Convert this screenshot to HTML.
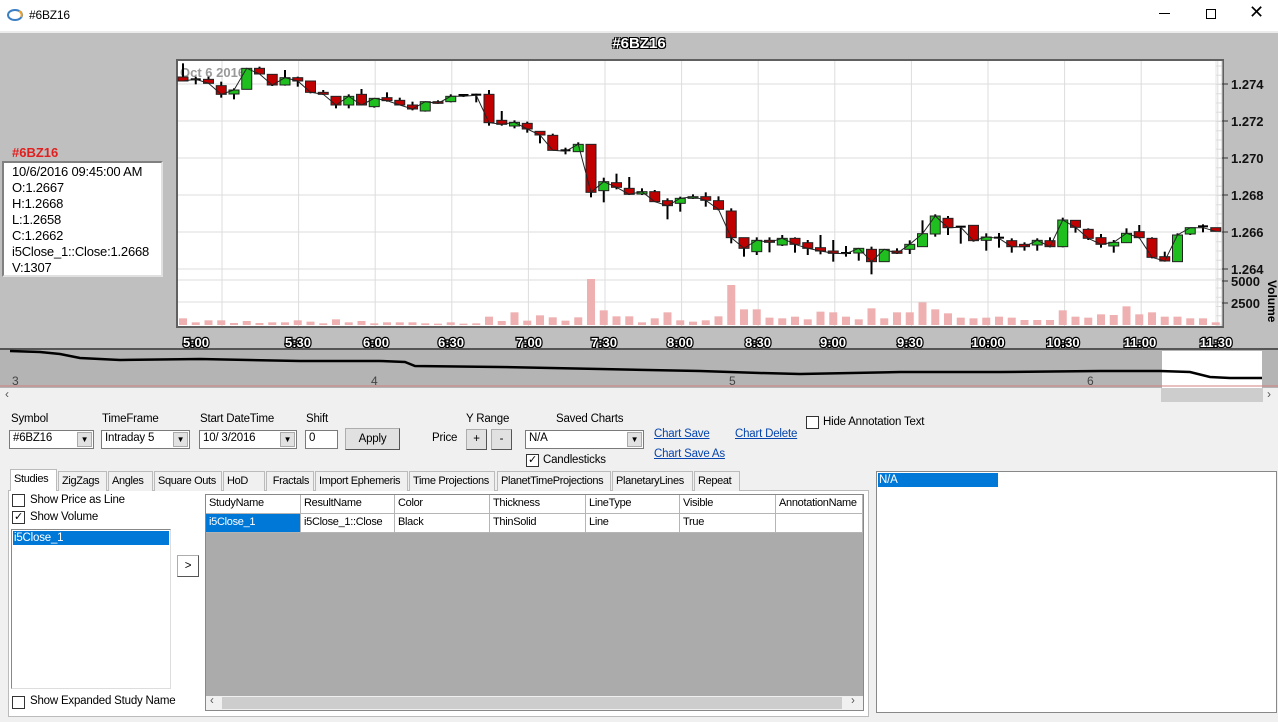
<!DOCTYPE html>
<html><head><meta charset="utf-8">
<style>
*{box-sizing:border-box}
body{margin:0;width:1278px;height:722px;overflow:hidden;background:#f0f0f0;font-family:"Liberation Sans",Arial,sans-serif;font-size:11.5px;letter-spacing:-0.2px;color:#000;position:relative}
.a{position:absolute;white-space:nowrap}
.cb{position:absolute;width:13px;height:13px;border:1px solid #333;background:#fff;font-size:11px;line-height:11px;text-align:center}
.combo{position:absolute;height:19px;background:#fff;border:1px solid #7a7a7a;padding:1px 3px;}
.combo .ar{position:absolute;right:1px;top:1px;width:15px;height:15px;background:#e1e1e1;border:1px solid #aaa;font-size:8px;text-align:center;line-height:14px}
.btn{position:absolute;background:#e1e1e1;border:1px solid #adadad;border-right-color:#555;border-bottom-color:#555;text-align:center}
.lnk{position:absolute;color:#0645ad;text-decoration:underline;white-space:nowrap}
.tab{position:absolute;top:471px;height:20px;border:1px solid #bbb;border-bottom:none;background:#f0f0f0;padding:3px 0 0 3px;font-size:11px;letter-spacing:-0.35px;white-space:nowrap;overflow:hidden}
.th,.td{position:absolute;height:19px;border-right:1px solid #b5b5b5;border-bottom:1px solid #b5b5b5;padding:2px 3px;background:#fff;white-space:nowrap;overflow:hidden;font-size:11px;letter-spacing:-0.3px}
</style></head><body>
<div class="a" style="left:0;top:0;width:1278px;height:31px;background:#fff"></div>
<svg class="a" style="left:6px;top:7px" width="18" height="16"><ellipse cx="9" cy="8" rx="7" ry="5" fill="none" stroke="#3a7fc4" stroke-width="2"/><path d="M13 4 A7 5 0 0 1 15 10" stroke="#f0a020" stroke-width="2" fill="none"/></svg>
<div class="a" style="left:29px;top:8px;font-size:12px">#6BZ16</div>
<div class="a" style="left:1159px;top:13px;width:11px;height:1px;background:#000"></div>
<div class="a" style="left:1206px;top:9px;width:10px;height:10px;border:1px solid #000"></div>
<div class="a" style="left:1249px;top:2px;font-size:18px;font-weight:300">✕</div>
<div class="a" style="left:0;top:31px;width:1278px;height:318px;background:#bfbfbf"></div>
<div class="a" style="left:0;top:31px;width:1278px;height:2px;background:#ececec"></div>
<div class="a" style="left:600px;top:35px;width:78px;text-align:center;font-weight:bold;font-size:15px;color:#fff;letter-spacing:0;text-shadow:1px 1px 0 #000,-1px -1px 0 #000,1px -1px 0 #000,-1px 1px 0 #000">#6BZ16</div>
<div class="a" style="left:12px;top:145px;color:#e02020;font-weight:bold;font-size:13px;letter-spacing:0">#6BZ16</div>
<div class="a" style="left:2px;top:161px;width:161px;height:116px;background:#fff;border:2px solid #808080;border-right-color:#e0e0e0;border-bottom-color:#e0e0e0;padding:1px 0 0 8px;font-size:13px;line-height:16px;letter-spacing:-0.2px">10/6/2016 09:45:00 AM<br>O:1.2667<br>H:1.2668<br>L:1.2658<br>C:1.2662<br>i5Close_1::Close:1.2668<br>V:1307</div>
<svg id="ch" class="a" style="left:0;top:0;letter-spacing:0" width="1278" height="402"></svg>
<div class="a" style="left:0;top:388px;width:1278px;height:14px;background:#f0f0f0"></div>
<div class="a" style="left:1161px;top:388px;width:102px;height:14px;background:#cdcdcd"></div>
<div class="a" style="left:5px;top:387px;font-size:12px;color:#555">‹</div>
<div class="a" style="left:1267px;top:387px;font-size:12px;color:#555">›</div>
<div class="a" style="left:11px;top:413px">Symbol</div>
<div class="a" style="left:102px;top:413px">TimeFrame</div>
<div class="a" style="left:200px;top:413px">Start DateTime</div>
<div class="a" style="left:306px;top:413px">Shift</div>
<div class="a" style="left:466px;top:413px">Y Range</div>
<div class="a" style="left:556px;top:413px">Saved Charts</div>
<div class="combo" style="left:9px;top:430px;width:85px">#6BZ16<div class="ar">▼</div></div>
<div class="combo" style="left:101px;top:430px;width:89px">Intraday 5<div class="ar">▼</div></div>
<div class="combo" style="left:199px;top:430px;width:98px">10/ 3/2016<div class="ar">▼</div></div>
<div class="combo" style="left:305px;top:430px;width:33px">0</div>
<div class="btn" style="left:345px;top:428px;width:55px;height:22px;line-height:20px">Apply</div>
<div class="a" style="left:432px;top:432px">Price</div>
<div class="btn" style="left:466px;top:429px;width:21px;height:21px;line-height:19px">+</div>
<div class="btn" style="left:491px;top:429px;width:21px;height:21px;line-height:19px">-</div>
<div class="combo" style="left:525px;top:430px;width:119px">N/A<div class="ar">▼</div></div>
<div class="lnk" style="left:654px;top:428px">Chart Save</div>
<div class="lnk" style="left:735px;top:428px">Chart Delete</div>
<div class="lnk" style="left:654px;top:448px">Chart Save As</div>
<div class="cb" style="left:526px;top:454px">✓</div><div class="a" style="left:543px;top:454px">Candlesticks</div>
<div class="cb" style="left:806px;top:416px"></div><div class="a" style="left:823px;top:416px">Hide Annotation Text</div>
<div class="a" style="left:8px;top:490px;width:861px;height:227px;background:#fff;border:1px solid #bbb"></div>
<div class="tab" style="left:10px;width:47px;background:#fff;top:469px;height:22px">Studies</div>
<div class="tab" style="left:58px;width:49px">ZigZags</div>
<div class="tab" style="left:108px;width:45px">Angles</div>
<div class="tab" style="left:154px;width:68px">Square Outs</div>
<div class="tab" style="left:223px;width:42px">HoD</div>
<div class="tab" style="left:266px;width:48px">&nbsp;Fractals</div>
<div class="tab" style="left:315px;width:93px">Import Ephemeris</div>
<div class="tab" style="left:409px;width:86px">Time Projections</div>
<div class="tab" style="left:497px;width:114px">PlanetTimeProjections</div>
<div class="tab" style="left:612px;width:81px">PlanetaryLines</div>
<div class="tab" style="left:694px;width:46px">Repeat</div>
<div class="cb" style="left:12px;top:494px"></div><div class="a" style="left:30px;top:494px">Show Price as Line</div>
<div class="cb" style="left:12px;top:511px">✓</div><div class="a" style="left:30px;top:511px">Show Volume</div>
<div class="a" style="left:11px;top:529px;width:160px;height:160px;border:1px solid #888;border-right-color:#ddd;border-bottom-color:#ddd;background:#fff"></div>
<div class="a" style="left:13px;top:531px;width:156px;height:14px;background:#0078d7;color:#fff;padding-left:1px;line-height:14px">i5Close_1</div>
<div class="btn" style="left:177px;top:555px;width:22px;height:22px;background:#fff;line-height:20px">&gt;</div>
<div class="cb" style="left:12px;top:696px"></div><div class="a" style="left:30px;top:695px">Show Expanded Study Name</div>
<div class="a" style="left:205px;top:494px;width:659px;height:217px;background:#ababab;border:1px solid #888"></div>
<div class="th" style="left:206px;top:495px;width:95px">StudyName</div>
<div class="th" style="left:301px;top:495px;width:94px">ResultName</div>
<div class="th" style="left:395px;top:495px;width:95px">Color</div>
<div class="th" style="left:490px;top:495px;width:96px">Thickness</div>
<div class="th" style="left:586px;top:495px;width:94px">LineType</div>
<div class="th" style="left:680px;top:495px;width:96px">Visible</div>
<div class="th" style="left:776px;top:495px;width:87px">AnnotationName</div>
<div class="td" style="left:206px;top:514px;width:95px;background:#0078d7;color:#fff">i5Close_1</div>
<div class="td" style="left:301px;top:514px;width:94px">i5Close_1::Close</div>
<div class="td" style="left:395px;top:514px;width:95px">Black</div>
<div class="td" style="left:490px;top:514px;width:96px">ThinSolid</div>
<div class="td" style="left:586px;top:514px;width:94px">Line</div>
<div class="td" style="left:680px;top:514px;width:96px">True</div>
<div class="td" style="left:776px;top:514px;width:87px"></div>
<div class="a" style="left:206px;top:696px;width:657px;height:14px;background:#f0f0f0"></div>
<div class="a" style="left:222px;top:697px;width:620px;height:12px;background:#cdcdcd"></div>
<div class="a" style="left:210px;top:695px;color:#555">‹</div><div class="a" style="left:851px;top:695px;color:#555">›</div>
<div class="a" style="left:876px;top:471px;width:401px;height:242px;background:#fff;border:1px solid #888"></div>
<div class="a" style="left:878px;top:473px;width:120px;height:14px;background:#0078d7;color:#fff;line-height:14px;padding-left:1px">N/A</div>
<script>
var s=document.getElementById('ch'),h='';
function R(x,y,w,ht,f,st){h+='<rect x="'+x+'" y="'+y+'" width="'+w+'" height="'+ht+'" fill="'+f+'"'+(st?' stroke="'+st+'"':'')+'/>';}
function L(x1,y1,x2,y2,c,w){h+='<line x1="'+x1+'" y1="'+y1+'" x2="'+x2+'" y2="'+y2+'" stroke="'+c+'" stroke-width="'+(w||1)+'"/>';}
function T(x,y,t,a){h+='<text x="'+x+'" y="'+y+'" '+(a||'')+'>'+t+'</text>';}
R(176,59,1048,269,'#606060');R(178,61,1044,265,'#fff');
var gy=[84,121,158,195,232,269,280,302];
for(var i=0;i<gy.length;i++)L(178,gy[i],1222,gy[i],'#ddd');
for(var g=0;g<14;g++){var gx=222+g*76.6;L(gx,61,gx,326,'#ddd');}
L(1216,61,1216,326,'#e4e4e4');
for(var y=66;y<326;y+=9.25)L(1216,y,1222,y,'#ddd');
L(1222,61,1222,326,'#c8c8c8');
var pl=[[84,'1.274'],[121,'1.272'],[158,'1.270'],[195,'1.268'],[232,'1.266'],[269,'1.264'],[281,'5000'],[303,'2500']];
for(i=0;i<pl.length;i++){L(1222,pl[i][0],1228,pl[i][0],'#333');T(1231,pl[i][0]+5,pl[i][1],'font-size="13" font-weight="bold" fill="#111"');}
T(1268,280,'Volume','font-size="12" font-weight="bold" transform="rotate(90 1268 280)"');
T(180,77,'Oct 6 2016','font-size="13" font-weight="bold" fill="#999"');
var d=[[66,78,25,78,0],[73,77,65,88,1],[73,85,65,85,0],[92,118,80,128,0],[105,117,100,133,1],[40,103,40,103,1],[40,57,35,57,0],[58,90,58,93,0],[68,90,45,92,1],[68,78,65,95,0],[78,112,78,115,0],[112,118,105,120,0],[124,150,124,160,0],[124,150,118,160,1],[118,150,102,150,0],[130,155,130,158,1],[128,137,112,140,0],[136,150,128,150,0],[150,162,140,166,0],[140,168,140,170,1],[140,145,136,146,0],[124,140,118,142,1],[120,124,118,126,2],[119,121,116,142,2],[118,203,105,212,0],[196,208,168,212,0],[202,213,196,220,1],[205,222,200,233,0],[229,240,229,265,0],[241,286,236,286,0],[286,289,278,298,2],[268,290,262,290,1],[268,412,268,427,0],[380,407,368,442,1],[383,397,356,403,0],[400,418,366,420,0],[410,417,400,420,1],[410,440,405,440,0],[437,452,430,493,0],[430,445,425,470,1],[425,430,418,432,1],[425,436,412,455,0],[437,463,424,466,0],
[468,548,460,565,0],[548,580,548,605,0],[556,590,547,600,1],[556,562,547,592,0],[550,570,540,573,1],[550,568,547,593,0],[563,580,555,600,0],[578,588,540,598,0],[588,595,555,620,0],[594,596,573,605,2],[580,594,580,617,1],[583,620,575,658,0],[583,620,583,620,1],[588,595,580,597,0],[568,583,556,597,1],[536,575,496,575,1],[483,537,478,545,1],[490,518,483,540,0],[515,517,513,566,2],[511,557,511,560,0],[546,556,535,587,1],[548,550,534,578,2],[557,575,550,593,0],[568,575,562,587,0],[556,570,550,587,1],[557,575,547,577,0],[495,575,488,577,1],[496,517,496,533,0],[523,550,520,555,0],[548,568,537,578,0],[562,573,555,593,1],[535,563,520,563,1],[530,548,510,550,0],[550,607,547,610,0],[605,618,590,620,0],[540,620,535,620,1],[518,537,518,540,1],[514,518,508,532,2],[518,529,518,529,0]];
var v=[790,802,796,796,804,798,804,802,802,796,800,805,793,802,798,805,802,802,802,805,806,802,806,805,785,798,772,797,781,787,797,787,672,766,784,784,802,790,772,796,800,796,784,690,763,763,788,790,785,793,770,772,785,793,760,790,772,772,742,763,775,788,790,788,785,788,795,795,795,766,785,788,778,780,754,778,772,785,785,790,790,802];
function Y(z){return 55+z/3;}
for(i=0;i<v.length;i++){var x=183+i*12.75;R(x-4,Y(v[i]),8,325-Y(v[i]),'#eeb0b0');}
var pts=[];
for(i=0;i<d.length;i++){var c=d[i],x=183+i*12.75,t=Y(c[0]),b=Y(c[1]);
L(x,Y(c[2]),x,Y(c[3]),'#000',2);
var f=c[4]==1?'#1fbf1f':(c[4]==0?'#c00000':'#000');
if(b-t<1.5){L(x-5,t,x+5,t,'#000',2);}else R(x-5,t,10,b-t,f,'#222');
pts.push(x+','+(c[4]==1?t:b).toFixed(1));}
h+='<polyline points="'+pts.join(' ')+'" fill="none" stroke="#222" stroke-width="1"/>';
var tl=['5:00','5:30','6:00','6:30','7:00','7:30','8:00','8:30','9:00','9:30','10:00','10:30','11:00','11:30'],tx=[196,298,376,451,529,604,680,758,833,910,988,1063,1140,1216];
for(i=0;i<14;i++)T(tx[i],347,tl[i],'font-size="13" font-weight="bold" text-anchor="middle" fill="#fff" stroke="#000" stroke-width="2.5" paint-order="stroke"');
R(0,348,1278,2,'#555');R(0,350,1278,38,'#b4b4b4');R(1162,351,100,37,'#fff');
L(0,386,1278,386,'#d08080',1);
h+='<polyline points="10,351 40,352 60,354 80,358 120,360 200,359 300,361 380,361 405,362 415,366 500,367 600,369 700,371 760,373 800,374 900,372 1000,372 1100,371 1160,371 1190,372 1210,377 1230,378 1262,378" fill="none" stroke="#000" stroke-width="2.5"/>';
T(12,385,'3','font-size="12" fill="#444"');T(371,385,'4','font-size="12" fill="#444"');T(729,385,'5','font-size="12" fill="#444"');T(1087,385,'6','font-size="12" fill="#444"');
s.innerHTML=h;
</script>
</body></html>
